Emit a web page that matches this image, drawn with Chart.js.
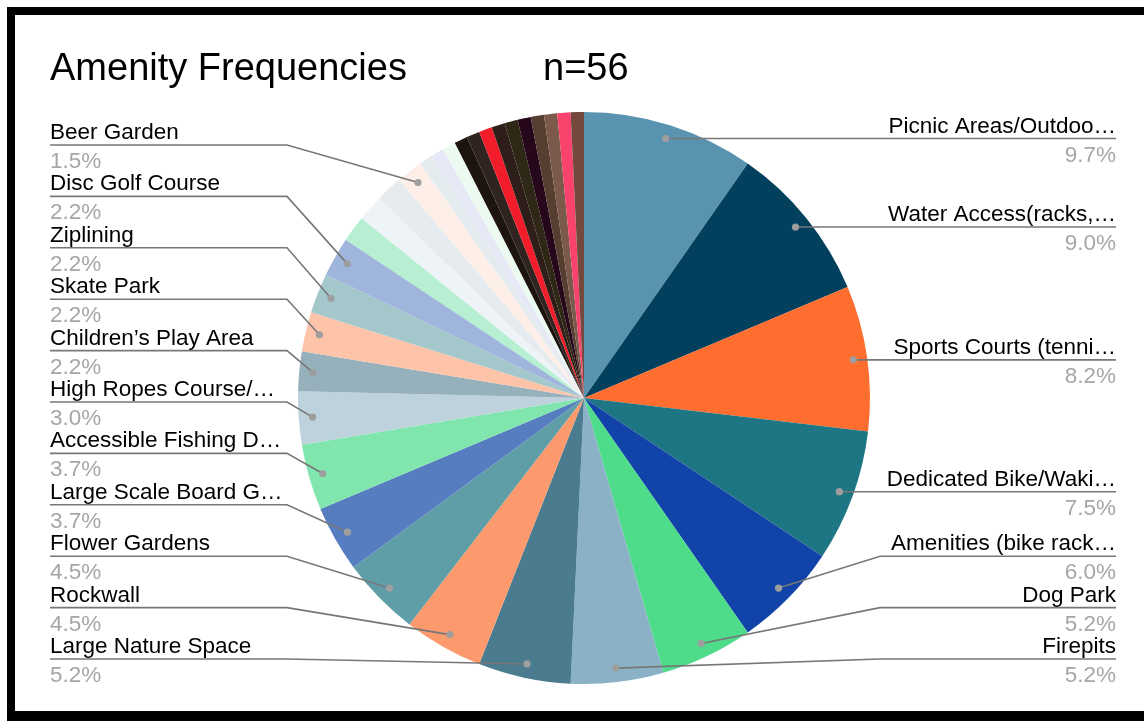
<!DOCTYPE html>
<html>
<head>
<meta charset="utf-8">
<script src="https://cdn.jsdelivr.net/npm/chart.js@4.4.0/dist/chart.umd.min.js"></script>
<style>
  html, body { margin: 0; padding: 0; background: #fff; overflow: hidden; }
  #wrap { position: relative; width: 1144px; height: 721px; }
  .bar { position: absolute; background: #000; }
</style>
</head>
<body>
<div id="wrap">
  <canvas id="pie" width="1144" height="721"></canvas>
  <div class="bar" style="left:7px;top:7px;width:1137px;height:8px"></div>
  <div class="bar" style="left:7px;top:7px;width:8px;height:714px"></div>
  <div class="bar" style="left:7px;top:711px;width:1137px;height:10px"></div>
</div>
<script>
// datos del grafico (ordenados como en la hoja, de mayor a menor)
const amenities = [
  "Picnic Areas/Outdoo…", "Water Access(racks,…", "Sports Courts (tenni…", "Dedicated Bike/Waki…",
  "Amenities (bike rack…", "Dog Park", "Firepits", "Large Nature Space", "Rockwall", "Flower Gardens",
  "Large Scale Board G…", "Accessible Fishing D…", "High Ropes Course/…", "Children’s Play Area",
  "Skate Park", "Ziplining", "Disc Golf Course", "Other 1", "Other 2", "Other 3", "Beer Garden",
  "Other 4", "Other 5", "Other 6", "Other 7", "Other 8", "Other 9", "Other 10", "Other 11",
  "Other 12", "Other 13", "Other 14", "Other 15", "Other 16"
];
const counts = [13, 12, 11, 10, 8, 7, 7, 7, 6, 6, 5, 5, 4, 3, 3, 3, 3, 2, 2, 2, 2,
  1, 1, 1, 1, 1, 1, 1, 1, 1, 1, 1, 1, 1];
// solo estas llevan etiqueta en el original
const labeled = [
  "Picnic Areas/Outdoo…", "Water Access(racks,…", "Sports Courts (tenni…", "Dedicated Bike/Waki…",
  "Amenities (bike rack…", "Dog Park", "Firepits", "Large Nature Space", "Rockwall", "Flower Gardens",
  "Large Scale Board G…", "Accessible Fishing D…", "High Ropes Course/…", "Children’s Play Area",
  "Skate Park", "Ziplining", "Disc Golf Course", "Beer Garden"
];
const sliceColors = [
  "#5a93b0", "#03405e", "#ff6d2f", "#1e7583", "#1143a8", "#4edb8a", "#8bb1c6", "#4a7b8f",
  "#fd9a6d", "#5f9ea7", "#567dc0", "#80e6ae", "#bdd2dd", "#96b1bc", "#fdc4aa", "#a4c7cb",
  "#a0b5dc", "#b6efd1", "#eef3f7", "#e6ebef", "#fdefe8", "#e5ecf0", "#e6e9f5", "#ecfaf1",
  "#1e140f", "#2f2420", "#f11d2a", "#2e1e1a", "#302816", "#27071c", "#563e30", "#7c5a4b",
  "#f9436c", "#74483c"
];
const chartTitle = "Amenity Frequencies";
const sampleNote = "n=56";

const FONT = "'Liberation Sans', Arial, sans-serif";

// etiquetas a los lados con linea guia
const sideLabels = {
  id: 'sideLabels',
  afterDatasetsDraw(chart) {
    const ctx = chart.ctx;
    const meta = chart.getDatasetMeta(0);
    const total = counts.reduce((a, b) => a + b, 0);
    const gap = 51.4, bottom = 659;
    const left = [], right = [];

    meta.data.forEach((arc, i) => {
      if (!labeled.includes(amenities[i])) return;
      const p = arc.getProps(['x', 'y', 'startAngle', 'endAngle', 'outerRadius'], true);
      const mid = (p.startAngle + p.endAngle) / 2;
      const r = p.outerRadius - 14;
      const dx = p.x + Math.cos(mid) * r;
      const dy = p.y + Math.sin(mid) * r;
      const item = { i, dx, dy, y: dy };
      (dx < p.x ? left : right).push(item);
    });

    [left, right].forEach((list) => {
      list.sort((a, b) => a.dy - b.dy);
      for (let k = 1; k < list.length; k++) list[k].y = Math.max(list[k].dy, list[k - 1].y + gap);
      const n = list.length;
      list[n - 1].y = Math.min(list[n - 1].y, bottom);
      for (let k = n - 2; k >= 0; k--) list[k].y = Math.min(list[k].y, list[k + 1].y - gap);
    });

    ctx.save();
    const drawOne = (it, isLeft) => {
      const pct = (counts[it.i] / total * 100).toFixed(1) + '%';
      ctx.strokeStyle = '#777';
      ctx.lineWidth = 1.6;
      ctx.beginPath();
      if (isLeft) {
        ctx.moveTo(50, it.y);
        ctx.lineTo(287, it.y);
      } else {
        ctx.moveTo(1116, it.y);
        ctx.lineTo(880, it.y);
      }
      ctx.lineTo(it.dx, it.dy);
      ctx.stroke();
      ctx.fillStyle = '#9e9e9e';
      ctx.beginPath();
      ctx.arc(it.dx, it.dy, 3.6, 0, Math.PI * 2);
      ctx.fill();

      ctx.font = '22.5px ' + FONT;
      ctx.textBaseline = 'alphabetic';
      ctx.textAlign = isLeft ? 'left' : 'right';
      const tx = isLeft ? 50 : 1116;
      ctx.fillStyle = '#000';
      ctx.fillText(amenities[it.i], tx, it.y - 6);
      ctx.fillStyle = '#a6a6a6';
      ctx.fillText(pct, tx, it.y + 23);
    };
    left.forEach((it) => drawOne(it, true));
    right.forEach((it) => drawOne(it, false));

    // titulo
    ctx.font = '38px ' + FONT;
    ctx.fillStyle = '#000';
    ctx.textAlign = 'left';
    ctx.fillText(chartTitle, 50, 80);
    ctx.fillText(sampleNote, 543, 80);
    ctx.restore();
  }
};

(() => {
  const canvas = document.getElementById('pie');
  window.myChart = new Chart(canvas, {
    type: 'pie',
    data: {
      labels: amenities,
      datasets: [{
        data: counts,
        backgroundColor: sliceColors,
        borderWidth: 0
      }]
    },
    options: {
      responsive: false,
      animation: false,
      layout: { padding: { top: 112, bottom: 37, left: 298, right: 274 } },
      plugins: {
        legend: { display: false },
        tooltip: { enabled: false }
      }
    },
    plugins: [sideLabels]
  });
})();
</script>
</body>
</html>
